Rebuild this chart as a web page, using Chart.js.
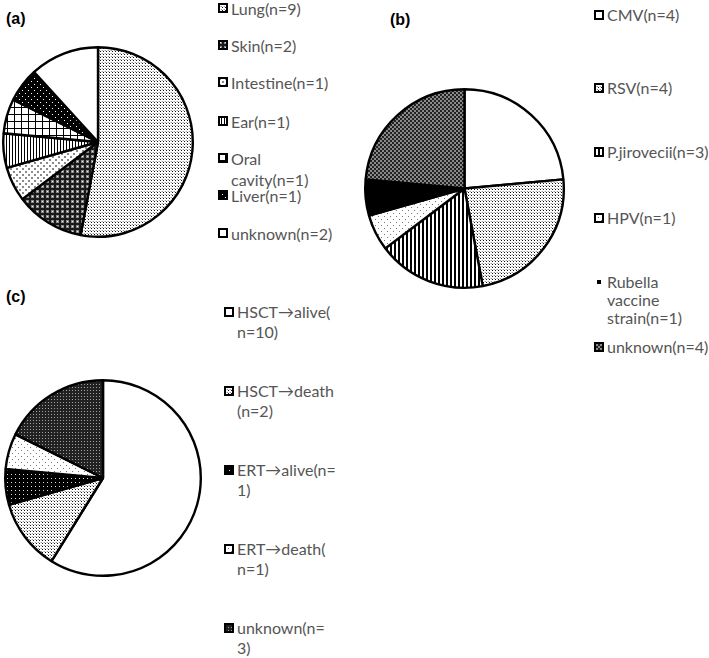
<!DOCTYPE html>
<html>
<head>
<meta charset="utf-8">
<script src="https://cdn.jsdelivr.net/npm/chart.js@4.4.1/dist/chart.umd.min.js"></script>
<style>
  body { margin: 0; background: #fff; width: 709px; height: 658px; position: relative; overflow: hidden; font-family: Lato, "DejaVu Sans", sans-serif; }
  canvas.pie { position: absolute; }
  .tag { position: absolute; font: bold 16px "Liberation Sans", Arial, sans-serif; color: #000; line-height: 16px; }
  .item { position: absolute; color: #555; font-size: 16px; white-space: pre; }
  .item canvas { position: absolute; left: 0; }
  .item span { position: absolute; left: 13px; top: 0; }
</style>
</head>
<body>
<div class="tag" style="left:6px;top:11px">(a)</div>
<div class="tag" style="left:390px;top:12px">(b)</div>
<div class="tag" style="left:6px;top:289px">(c)</div>

<canvas id="siteChart" class="pie" width="196" height="196" style="left:0px;top:44px"></canvas>
<canvas id="pathChart" class="pie" width="205" height="205" style="left:362px;top:86px"></canvas>
<canvas id="outChart" class="pie" width="202" height="202" style="left:2px;top:377px"></canvas>

<script>
// (a) infection sites
const siteLabels = ["Lung(n=9)", "Skin(n=2)", "Intestine(n=1)", "Ear(n=1)", "Oral\ncavity(n=1)", "Liver(n=1)", "unknown(n=2)"];
const siteCounts = [9, 2, 1, 1, 1, 1, 2];

// (b) pathogens
const pathLabels = ["CMV(n=4)", "RSV(n=4)", "P.jirovecii(n=3)", "HPV(n=1)", "Rubella\nvaccine\nstrain(n=1)", "unknown(n=4)"];
const pathCounts = [4, 4, 3, 1, 1, 4];

// (c) outcomes
const outLabels = ["HSCT→alive(\nn=10)", "HSCT→death\n(n=2)", "ERT→alive(n=\n1)", "ERT→death(\nn=1)", "unknown(n=\n3)"];
const outCounts = [10, 2, 1, 1, 3];

// little tiles -> fill patterns (black & white print look)
const patCtx = document.createElement("canvas").getContext("2d");
function tile(w, h, bg, marks) {
  const c = document.createElement("canvas");
  c.width = w; c.height = h;
  const g = c.getContext("2d");
  g.fillStyle = bg;
  g.fillRect(0, 0, w, h);
  marks.forEach(([x, y, mw, mh, col]) => { g.fillStyle = col; g.fillRect(x, y, mw, mh); });
  return patCtx.createPattern(c, "repeat");
}

const fine = tile(3, 3, "#fff", [[1, 1, 1, 1, "#111"], [0, 0, 1, 1, "#999"], [2, 0, 1, 1, "#ddd"]]);
const spheres = tile(5, 5, "#1a1a1a", [[1, 1, 3, 3, "#8a8a8a"], [2, 2, 1, 1, "#eee"]]);
const sparse = tile(6, 6, "#fff", [[1, 1, 2, 2, "#8a8a8a"], [4, 4, 2, 2, "#8a8a8a"]]);
const vlines = tile(3, 1, "#fff", [[0, 0, 1, 1, "#000"]]);
const grid = tile(7, 7, "#fff", [[0, 0, 7, 1, "#000"], [0, 0, 1, 7, "#000"]]);
const blackDots = tile(6, 6, "#000", [[1, 1, 1, 1, "#fff"], [4, 4, 1, 1, "#fff"]]);
const checker = tile(4, 4, "#222", [[0, 0, 2, 2, "#8a8a8a"], [2, 2, 2, 2, "#8a8a8a"]]);
const thickLines = tile(4, 1, "#fff", [[0, 0, 2, 1, "#000"]]);
const lightDots = tile(6, 6, "#fff", [[1, 1, 1, 1, "#777"], [4, 4, 1, 1, "#777"]]);
const darkDots = tile(3, 3, "#222", [[1, 1, 1, 1, "#a0a0a0"]]);
const blackFine = tile(4, 4, "#000", [[1, 1, 1, 1, "#ddd"]]);

const siteFills = [fine, spheres, sparse, vlines, grid, blackDots, "#fff"];
const pathFills = ["#fff", fine, thickLines, lightDots, "#000", checker];
const outFills = ["#fff", fine, blackFine, lightDots, darkDots];

function pie(id, labels, counts, fills) {
  return new Chart(document.getElementById(id), {
    type: "pie",
    data: {
      labels: labels,
      datasets: [{
        data: counts,
        backgroundColor: fills,
        borderColor: "#000",
        borderWidth: 2.4,
        hoverOffset: 0
      }]
    },
    options: {
      responsive: false,
      animation: false,
      events: [],
      layout: { padding: 2 },
      plugins: { legend: { display: false }, tooltip: { enabled: false } }
    }
  });
}

pie("siteChart", siteLabels, siteCounts, siteFills);
pie("pathChart", pathLabels, pathCounts, pathFills);
pie("outChart", outLabels, outCounts, outFills);

// legends (laid out like the original figure)
function legend(labels, fills, x, ys, lh, tinyIdx) {
  labels.forEach((txt, i) => {
    const it = document.createElement("div");
    it.className = "item";
    it.style.left = x + "px";
    it.style.top = (ys[i] - lh / 2) + "px";
    it.style.lineHeight = lh + "px";
    const box = document.createElement("canvas");
    box.width = 10; box.height = 10;
    box.style.top = ((lh - 10) / 2) + "px";
    const g = box.getContext("2d");
    if (i === tinyIdx) {
      g.fillStyle = "#000";
      g.fillRect(3, 3, 4, 4);
    } else {
      g.fillStyle = fills[i];
      g.fillRect(0, 0, 10, 10);
      g.lineWidth = 2;
      g.strokeStyle = "#000";
      g.strokeRect(1, 1, 8, 8);
    }
    const sp = document.createElement("span");
    sp.textContent = txt;
    it.appendChild(box);
    it.appendChild(sp);
    document.body.appendChild(it);
  });
}

legend(siteLabels, siteFills, 218, [8, 45, 82, 121, 158, 195, 233], 21, -1);
legend(pathLabels, pathFills, 594, [15, 88, 152, 218, 282, 347], 18, 4);
legend(outLabels, outFills, 224, [312, 391, 470, 549, 628], 20, -1);
</script>
</body>
</html>
